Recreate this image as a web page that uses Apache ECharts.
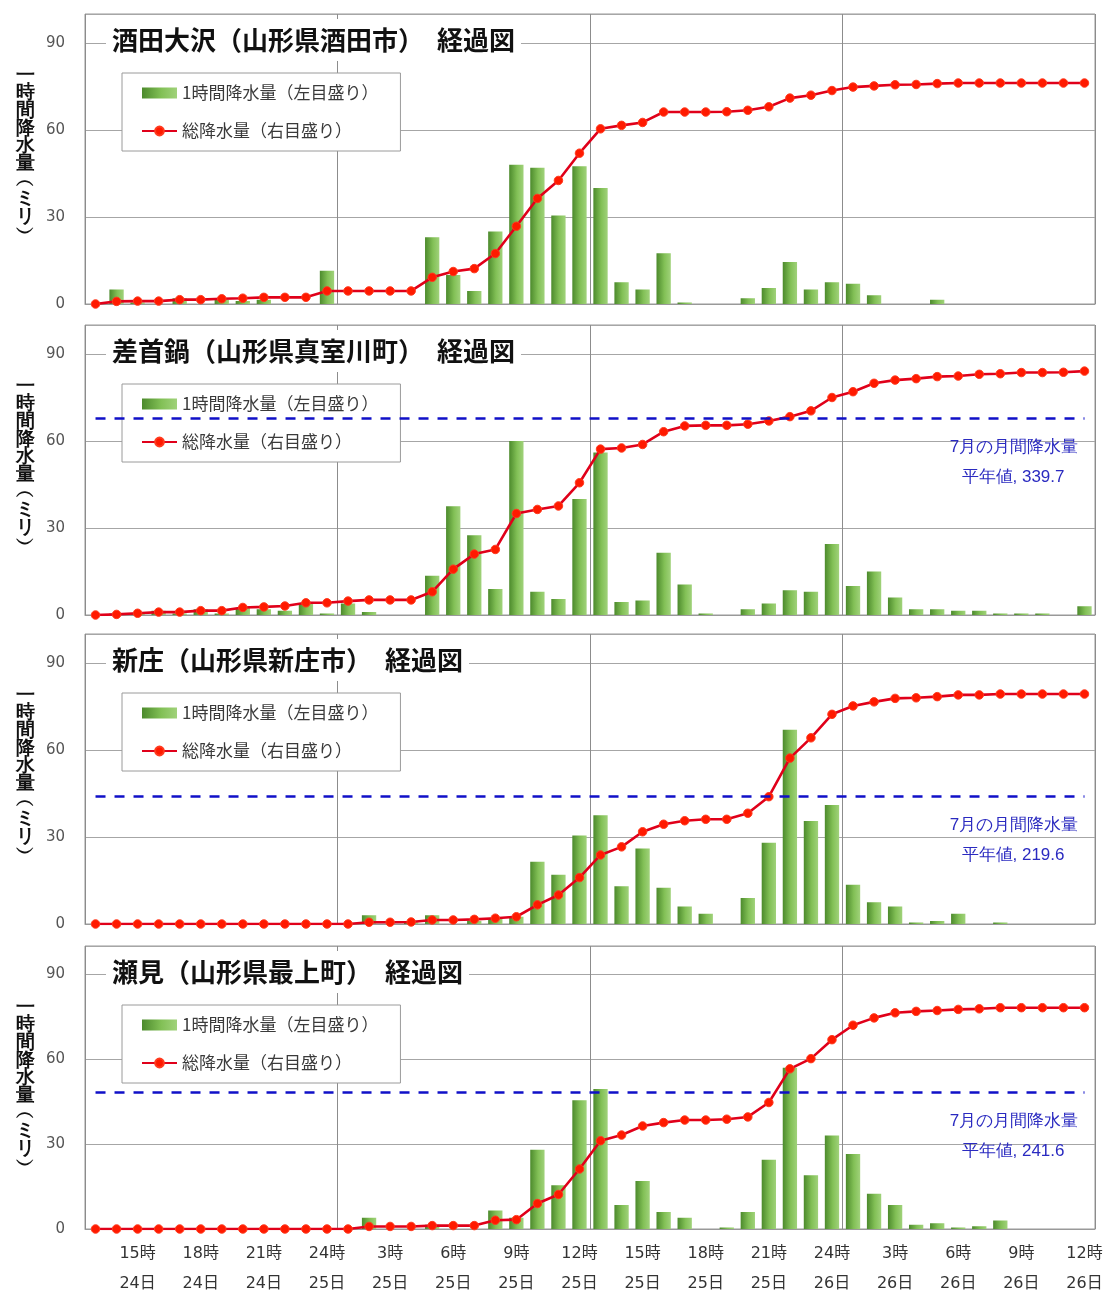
<!DOCTYPE html>
<html>
<head>
<meta charset="utf-8">
<script src="https://cdn.jsdelivr.net/npm/echarts@6/dist/echarts.min.js"></script>
<style>
html,body{margin:0;padding:0;background:#fff;}
#main{width:1106px;height:1299px;}
</style>
</head>
<body>
<div id="main"></div>
<script>
// ---------- data ----------
const categories = [
'13時\n24日','14時\n24日','15時\n24日','16時\n24日','17時\n24日','18時\n24日','19時\n24日','20時\n24日','21時\n24日','22時\n24日','23時\n24日','24時\n25日',
'1時\n25日','2時\n25日','3時\n25日','4時\n25日','5時\n25日','6時\n25日','7時\n25日','8時\n25日','9時\n25日','10時\n25日','11時\n25日','12時\n25日',
'13時\n25日','14時\n25日','15時\n25日','16時\n25日','17時\n25日','18時\n25日','19時\n25日','20時\n25日','21時\n25日','22時\n25日','23時\n25日','24時\n26日',
'1時\n26日','2時\n26日','3時\n26日','4時\n26日','5時\n26日','6時\n26日','7時\n26日','8時\n26日','9時\n26日','10時\n26日','11時\n26日','12時\n26日'
];
const tickLabels = ['15時\n24日','18時\n24日','21時\n24日','24時\n25日','3時\n25日','6時\n25日','9時\n25日','12時\n25日',
'15時\n25日','18時\n25日','21時\n25日','24時\n26日','3時\n26日','6時\n26日','9時\n26日','12時\n26日'];
const leftTicks = [0, 30, 60, 90];

const stationTitles = [
'酒田大沢（山形県酒田市）　経過図',
'差首鍋（山形県真室川町）　経過図',
'新庄（山形県新庄市）　経過図',
'瀬見（山形県最上町）　経過図'
];

const hourlySakata = [0,5,0.5,0,2,0,1.5,1,1.5,0,0,11.5, 0,0,0,0,23,10,4.5,25,48,47,30.5,47.5, 40,7.5,5,17.5,0.5,0,0,2,5.5,14.5,5,7.5, 7,3,0,0,1.5,0,0,0,0,0,0,0];
const totalSakata  = [0,4.5,5,5,7.5,7.5,9,10,11.5,11.5,11.5,22.5, 22.5,22.5,22.5,22.5,46,56,61,87,134,182,213,260, 302,308,313,331,331,331,331.5,334,340,355,360,368, 374,376,378,378.5,380,381,381,381,381,381,381,381];

const hourlySasakubi = [0,0.5,0.5,1.5,0.5,2,0.5,2.5,2,1.5,4,0.5, 4,1,0,0,13.5,37.5,27.5,9,60,8,5.5,40, 56,4.5,5,21.5,10.5,0.5,0,2,4,8.5,8,24.5, 10,15,6,2,2,1.5,1.5,0.5,0.5,0.5,0,3];
const totalSasakubi  = [0,1,3,5,5,7.5,7.5,13,14,15.5,21,21, 24,26,26,26,40,79,105,113,175,182,188,228, 286,288,294,316,326,327,327,329,334.5,342,352,375, 385,399.5,405,407.5,411,412,415,416,418,418,418.5,420.5];

const hourlyShinjo = [0,0,0,0,0,0,0,0,0,0,0,0, 0,3,0,0.5,3,0,1,2,2.5,21.5,17,30.5, 37.5,13,26,12.5,6,3.5,0,9,28,67,35.5,41, 13.5,7.5,6,0.5,1,3.5,0,0.5,0,0,0,0];
const totalShinjo  = [0,0,0,0,0,0,0,0,0,0,0,0, 0,3,3,3.5,7,7,8,10,12.5,33,50,80, 119,133,159,172,178,180.5,180.5,191,219.5,286,321,361.5, 376,383,389,390,392,395,395,396.5,396.5,396.5,396.5,396.5];

const hourlySemi = [0,0,0,0,0,0,0,0,0,0,0,0, 0,4,0,0,1.5,0,0,6.5,4,28,15.5,45.5, 49.5,8.5,17,6,4,0,0.5,6,24.5,57,19,33, 26.5,12.5,8.5,1.5,2,0.5,1,3,0,0,0,0];
const totalSemi  = [0,0,0,0,0,0,0,0,0,0,0,0, 0,4.5,4.5,4.5,6,6,6,15.5,16.5,45,61,106, 156,166,182,188,192.5,192.5,194,198,223.5,283,301,334.5, 360,373,382,384.5,386,388,389,391,391,391,391,391];

const monthlyNormals = [null, 339.7, 219.6, 241.6];

const barName = '1時間降水量（左目盛り）';
const lineName = '総降水量（右目盛り）';
const axisTitle = ['一','時','間','降','水','量','︵','ミ','リ','︶'];

// ---------- layout ----------
const hourlyList = [hourlySakata, hourlySasakubi, hourlyShinjo, hourlySemi];
const totalList = [totalSakata, totalSasakubi, totalShinjo, totalSemi];
const tops = [14, 325, 634, 946];
const gridH = 290;
const gridLeft = 85, gridWidth = 1010;
const jpFont = "'Noto Sans CJK JP', sans-serif";
const numFont = "'DejaVu Sans', 'Noto Sans CJK JP', sans-serif";

const barColor = new echarts.graphic.LinearGradient(0, 0, 1, 0, [
  {offset: 0, color: '#4c8a2c'},
  {offset: 0.55, color: '#82c056'},
  {offset: 1, color: '#a0d27a'}
]);

const option = {
  animation: false,
  backgroundColor: '#fff',
  grid: [], xAxis: [], yAxis: [], series: [], title: [], legend: []
};

tops.forEach((top, k) => {
  option.grid.push({left: gridLeft, top: top, width: gridWidth, height: gridH,
    show: true, borderColor: '#999', borderWidth: 1, backgroundColor: 'transparent'});
  const isLast = k === tops.length - 1;
  option.xAxis.push({
    type: 'category', gridIndex: k, data: categories, boundaryGap: true,
    axisLine: {show: true, lineStyle: {color: '#999'}},
    axisTick: {show: false},
    axisLabel: {show: isLast, interval: (idx, val) => tickLabels.includes(val),
      fontSize: 16, lineHeight: 30, margin: 10, color: '#333', fontFamily: numFont},
    splitLine: {show: true, interval: (idx) => idx % 12 === 0, lineStyle: {color: '#8c8c8c', width: 1}}
  });
  option.yAxis.push({
    type: 'value', gridIndex: k, min: 0, max: 100, interval: 30, position: 'left',
    axisLine: {show: false}, axisTick: {show: false},
    axisLabel: {showMaxLabel: false, fontSize: 15, color: '#555', margin: 20, fontFamily: numFont,
      formatter: (v) => leftTicks.includes(v) ? String(v) : ''},
    splitLine: {show: true, lineStyle: {color: '#a6a6a6', width: 1}}
  });
  option.yAxis.push({
    type: 'value', gridIndex: k, min: 0, max: 500, position: 'right', show: false,
    splitLine: {show: false}
  });
  option.series.push({
    name: barName, type: 'bar', xAxisIndex: k, yAxisIndex: 2 * k,
    data: hourlyList[k], barCategoryGap: '32%',
    itemStyle: {color: barColor}, z: 2
  });
  const lineSeries = {
    name: lineName, type: 'line', xAxisIndex: k, yAxisIndex: 2 * k + 1,
    data: totalList[k], symbol: 'circle', symbolSize: 8.5,
    lineStyle: {color: '#e0001a', width: 2.6},
    itemStyle: {color: '#ff1a00', borderColor: '#ff3b1f', borderWidth: 1},
    z: 3
  };
  if (monthlyNormals[k] !== null) {
    lineSeries.markLine = {
      silent: true, symbol: ['none', 'none'], label: {show: false},
      lineStyle: {color: '#1010c8', width: 2.5, type: [10, 9]},
      data: [[{coord: [0, monthlyNormals[k]]}, {coord: [categories.length - 1, monthlyNormals[k]]}]]
    };
  }
  option.series.push(lineSeries);
  option.title.push({
    text: stationTitles[k], left: 106, top: top + 5,
    padding: [8, 6, 8, 6], backgroundColor: '#fff',
    textStyle: {fontSize: 26, fontWeight: 'bold', color: '#111', fontFamily: jpFont}
  });
  option.legend.push({
    orient: 'vertical', left: 122, top: top + 59,
    data: [{name: barName, icon: 'rect'}, {name: lineName}],
    backgroundColor: '#fff', borderColor: '#9a9a9a', borderWidth: 1,
    padding: [10, 22, 10, 19], itemGap: 18, itemWidth: 35, itemHeight: 11,
    selectedMode: false,
    textStyle: {fontSize: 17, lineHeight: 20, color: '#3a3a3a', fontFamily: jpFont}
  });
});

const chart = echarts.init(document.getElementById('main'));
chart.setOption(option);

// ---------- annotations ----------
const graphics = [];
tops.forEach((top, k) => {
  graphics.push({
    type: 'text', left: 16, top: top + 52, z: 10,
    style: {text: axisTitle.join('\n'), fontSize: 19, lineHeight: 17.6, fontWeight: 'bold',
      fill: '#111', font: "bold 19px 'Noto Sans CJK JP'", textAlign: 'left'}
  });
  if (monthlyNormals[k] !== null) {
    const p = chart.convertToPixel({xAxisIndex: k, yAxisIndex: 2 * k + 1}, [0, monthlyNormals[k]]);
    graphics.push({
      type: 'text', x: 1014, y: p[1] + 29, z: 10,
      style: {text: '7月の月間降水量', fontSize: 17, fill: '#2a2ac0', font: "17px " + numFont,
        textAlign: 'center', textVerticalAlign: 'middle'}
    });
    graphics.push({
      type: 'text', x: 1013, y: p[1] + 59, z: 10,
      style: {text: '平年値, ' + monthlyNormals[k].toFixed(1), fontSize: 17, fill: '#2a2ac0', font: "17px " + numFont,
        textAlign: 'center', textVerticalAlign: 'middle'}
    });
  }
});
chart.setOption({graphic: graphics});
</script>
</body>
</html>
